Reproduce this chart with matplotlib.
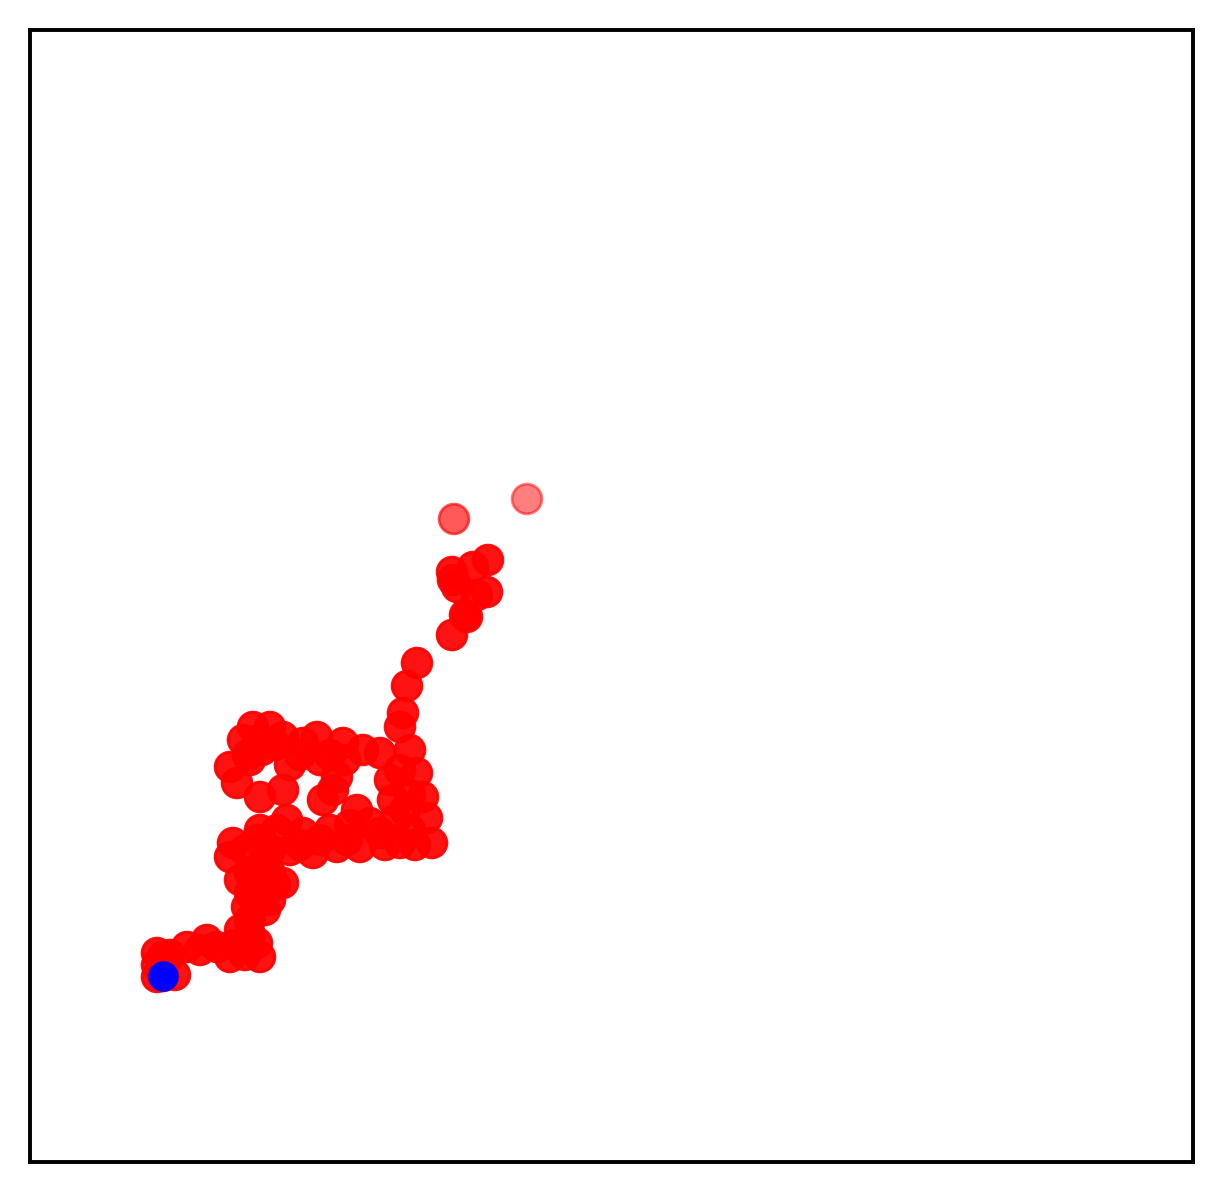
import matplotlib
matplotlib.use("Agg")
import matplotlib.pyplot as plt

# walk positions (x to the right, y upwards), start -> end
walk_x = [163, 175, 157, 170, 157, 163, 157, 187, 200, 207, 217, 230, 235, 245,
          257, 260, 250, 240, 250, 247, 265, 260, 250, 270, 260, 240, 283, 275,
          270, 255, 250, 265, 245, 230, 233, 257, 260, 277, 287, 270, 290, 300,
          303, 320, 313, 330, 337, 347, 350, 360, 380, 385, 370, 357, 395, 400,
          415, 432, 410, 427, 405, 410, 423, 393, 390, 400, 417, 410, 380, 363,
          345, 330, 343, 333, 337, 323, 320, 300, 317, 303, 290, 283, 270, 253,
          260, 275, 243, 262, 248, 250, 230, 237, 260, 283, 400, 403, 407, 417,
          452, 465, 467, 477, 487, 457, 453, 452, 473, 488, 454, 527]
walk_y = [216, 217, 215, 237, 227, 235, 239, 245, 242, 252, 245, 235, 247, 237,
          249, 235, 257, 262, 272, 285, 282, 292, 299, 292, 312, 312, 309, 307,
          319, 322, 319, 332, 342, 335, 349, 352, 362, 362, 372, 342, 342, 347,
          359, 352, 339, 362, 345, 352, 367, 345, 359, 347, 369, 382, 372, 349,
          347, 349, 362, 374, 382, 397, 395, 392, 412, 422, 419, 442, 439, 442,
          432, 437, 449, 402, 415, 392, 432, 437, 455, 449, 427, 455, 465, 465,
          452, 447, 452, 442, 437, 432, 425, 409, 395, 402, 465, 479, 506, 529,
          557, 577, 575, 597, 600, 605, 612, 620, 625, 632, 673, 693]
# opacity of each point: trail fades at the newest end
walk_alpha = [0.93] * (len(walk_x) - 2) + [0.65, 0.5]

start_x, start_y = 163, 216

X_LIM = (30, 1193)
Y_LIM = (30, 1162)

fig = plt.figure(figsize=(6.11, 5.96), dpi=200)
ax = fig.add_axes([30 / 1222, 30 / 1192, 1163 / 1222, 1132 / 1192])

colors = [(1, 0, 0, a) for a in walk_alpha]
ax.scatter(walk_x, walk_y, s=115, c=colors, edgecolors=colors, linewidths=1.0, zorder=2)
ax.scatter([start_x], [start_y], s=100, c="blue", edgecolors="blue", linewidths=1.0, zorder=3)

ax.set_xlim(*X_LIM)
ax.set_ylim(*Y_LIM)
ax.set_xticks([]); ax.set_yticks([])
for sp in ax.spines.values():
    sp.set_linewidth(1.4)

fig.savefig("out.png", dpi=200)
